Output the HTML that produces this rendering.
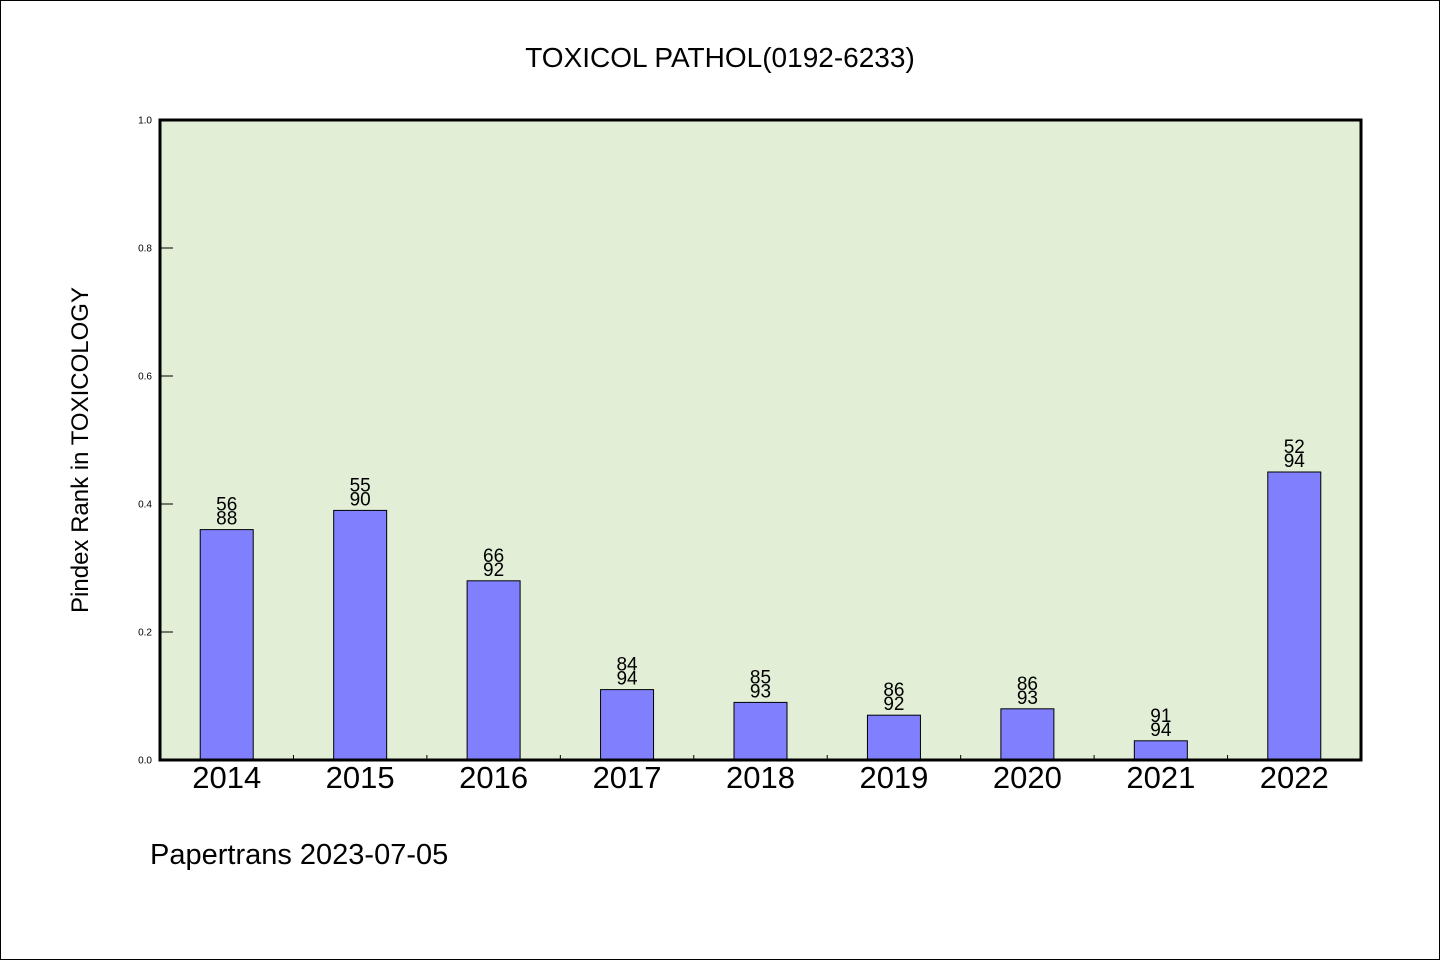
<!DOCTYPE html>
<html><head><meta charset="utf-8"><style>
html,body{margin:0;padding:0;background:#fff}
svg{display:block}
text{font-family:"WenQuanYi Zen Hei","Liberation Sans",sans-serif;fill:#000}
</style></head><body>
<svg id="chart" width="1440" height="960">
<rect x="0.5" y="0.5" width="1439" height="959" fill="#fff" stroke="#000"/>
<text x="720" y="67" font-size="28" text-anchor="middle">TOXICOL PATHOL(0192-6233)</text>
<rect x="160" y="120" width="1201" height="640" fill="#e2efd6"/>
<g id="bars"></g>
<rect x="160" y="120" width="1201" height="640" fill="none" stroke="#000" stroke-width="3"/>
<g id="axes"></g>
<text transform="translate(88,450) rotate(-90)" font-size="24" text-anchor="middle">Pindex Rank in TOXICOLOGY</text>
<text x="150" y="864" font-size="29">Papertrans 2023-07-05</text>
</svg>
<script>
const categories=["2014","2015","2016","2017","2018","2019","2020","2021","2022"];
const values=[0.36,0.39,0.28,0.11,0.09,0.07,0.08,0.03,0.45];
const ranks=["56","55","66","84","85","86","86","91","52"];
const totals=["88","90","92","94","93","92","93","94","94"];
const yTicks=[0,0.2,0.4,0.6,0.8,1.0];
const yTickLabels=["0.0","0.2","0.4","0.6","0.8","1.0"];
const X0=160,X1=1361,Y0=760,Y1=120;
const step=(X1-X0)/categories.length;
const xC=i=>X0+step*(i+0.5);
const yS=v=>Y0-(Y0-Y1)*v;
const NS="http://www.w3.org/2000/svg";
const bars=document.getElementById('bars'),axes=document.getElementById('axes');
function mk(tag,attrs,parent,txt){const e=document.createElementNS(NS,tag);for(const k in attrs)e.setAttribute(k,attrs[k]);if(txt!==undefined)e.textContent=txt;parent.appendChild(e);return e;}
categories.forEach((c,i)=>{
  const bw=53,x=xC(i)-bw/2,y=yS(values[i]);
  const r=mk('rect',{x:x,y:y,width:bw,height:Y0-y,fill:'#8080ff',stroke:'#000','stroke-width':1},bars);
  
  
  const t1=mk('text',{x:xC(i),y:y-19,'font-size':19,'text-anchor':'middle'},bars,ranks[i]);
  
  
  const t2=mk('text',{x:xC(i),y:y-5,'font-size':19,'text-anchor':'middle'},bars,totals[i]);
  
  
  const xl=mk('text',{x:xC(i),y:788,'font-size':31,'text-anchor':'middle'},axes,c);
  
  
  if(i>0){const tk=mk('line',{x1:X0+step*i,x2:X0+step*i,y1:Y0,y2:Y0-5,stroke:'#000'},axes);
  
  }
});
yTicks.forEach((v,i)=>{
  const y=yS(v);
  const tk=mk('line',{x1:X0,x2:X0+13,y1:y,y2:y,stroke:'#000'},axes);
  
  
  const tl=mk('text',{x:152,y:y+3.5,'font-size':10,'text-anchor':'end'},axes,yTickLabels[i]);
  
  
});
</script>
</body></html>
